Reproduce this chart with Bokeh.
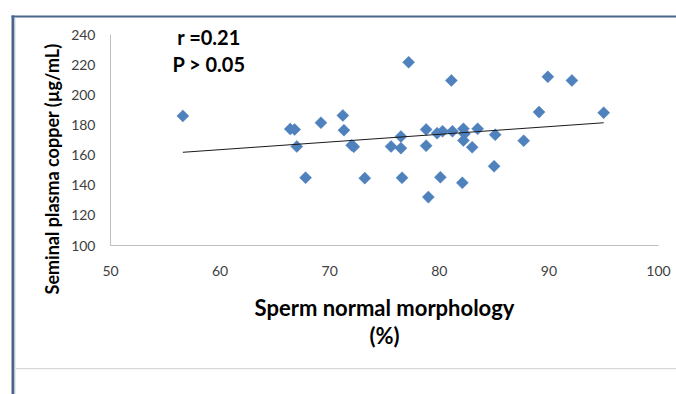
import numpy as np
from bokeh.plotting import figure
from bokeh.models import Range1d, Label, BoxAnnotation
from bokeh.embed import file_html
from bokeh.resources import INLINE

# Data
morphology = [56.6, 66.4, 66.8, 69.2, 71.2, 71.3, 67.0, 72.0, 72.2, 67.8, 73.2,
              75.6, 76.5, 76.5, 78.8, 78.8, 79.8, 80.3, 81.2, 82.2, 82.3, 82.2,
              83.0, 83.5, 76.6, 80.1, 82.1, 79.0, 85.1, 87.7, 89.1, 95.0, 85.0,
              77.2, 81.1, 89.9, 92.1]
copper = [186.0, 177.3, 177.0, 181.5, 186.3, 176.5, 165.7, 166.5, 165.5, 145.0, 144.7,
          165.7, 172.3, 164.6, 177.0, 166.2, 174.5, 175.8, 175.8, 177.4, 174.1, 169.7,
          165.2, 177.4, 144.9, 145.3, 141.6, 132.1, 173.5, 169.5, 188.5, 188.1, 152.6,
          221.6, 209.5, 211.9, 209.5]
x_ticks = [50, 60, 70, 80, 90, 100]
y_ticks = [100, 120, 140, 160, 180, 200, 220, 240]
x_title = ["Sperm normal morphology", "(%)"]
y_title = "Seminal plasma copper (µg/mL)"
stats = ["r =0.21", "P > 0.05"]

FONT = "Lato"
W, H = 676, 394
# pixel placement of the plotting area (x: 50..100, y: 100..240)
PX_L, PX_R, PY_T, PY_B = 110, 658, 34, 245


def dx(px):
    return 50 + (px - PX_L) * 50.0 / (PX_R - PX_L)


def dy(py):
    return 100 + (PY_B - py) * 140.0 / (PY_B - PY_T)


p = figure(width=W, height=H, output_backend="svg", toolbar_location=None,
           x_range=Range1d(dx(0), dx(W)), y_range=Range1d(dy(H), dy(0)),
           min_border=0, min_border_left=0, min_border_right=0,
           min_border_top=0, min_border_bottom=0)
p.outline_line_color = None
p.grid.visible = False
p.background_fill_color = "white"
p.border_fill_color = "white"

for ax in (p.xaxis[0], p.yaxis[0]):
    ax.axis_line_color = "#BFBFBF"
    ax.axis_line_width = 1
    ax.major_tick_line_color = None
    ax.minor_tick_line_color = None
    ax.major_tick_out = 0
    ax.major_tick_in = 0
    ax.minor_tick_out = 0
    ax.minor_tick_in = 0
    ax.major_label_text_font = FONT
    ax.major_label_text_font_size = "14px"
    ax.major_label_text_color = "#404040"
p.xaxis.ticker = x_ticks
p.yaxis.ticker = y_ticks
p.xaxis.fixed_location = 100
p.yaxis.fixed_location = 50
p.xaxis.bounds = (50, 100)
p.yaxis.bounds = (100, 240)
p.xaxis.major_label_standoff = 20
p.yaxis.major_label_standoff = 15

# scatter points
p.scatter(morphology, copper, marker="square", size=8.5, angle=np.pi / 4,
          fill_color="#4F81BD", line_color="#4F81BD", line_width=0.5)

# linear trend line
slope, intercept = np.polyfit(morphology, copper, 1)
tx = np.array([min(morphology), max(morphology)])
p.line(tx, slope * tx + intercept, line_color="#1a1a1a", line_width=1)


def lab(px, py, text, size, angle=0.0):
    p.add_layout(Label(x=dx(px), y=dy(py), text=text, text_font=FONT,
                       text_font_size=size, text_font_style="bold",
                       text_color="black", angle=angle,
                       text_align="center", text_baseline="alphabetic"))


lab(208.5, 36.0, stats[0], "20px")
lab(208.5, 63.0, stats[1], "20px")
lab(384.0, 307.0, x_title[0], "22px")
lab(384.0, 335.0, x_title[1], "22px")
lab(51.7, 168.5, y_title, "18px", angle=np.pi / 2)


def box(l, r, t, b, color):
    p.add_layout(BoxAnnotation(left=dx(l), right=dx(r), top=dy(t), bottom=dy(b),
                               fill_color=color, fill_alpha=1, line_color=None))


# chart-area frame lines
box(11, W + 5, 15, 17, "#48678A")
box(11, 14, 15, H + 5, "#48678A")
box(14, 15, 17, H + 5, "#D0D8E0")
box(15, W + 5, 367.5, 368.8, "#D9D9D9")

open("out.html", "w").write(file_html(p, INLINE))
